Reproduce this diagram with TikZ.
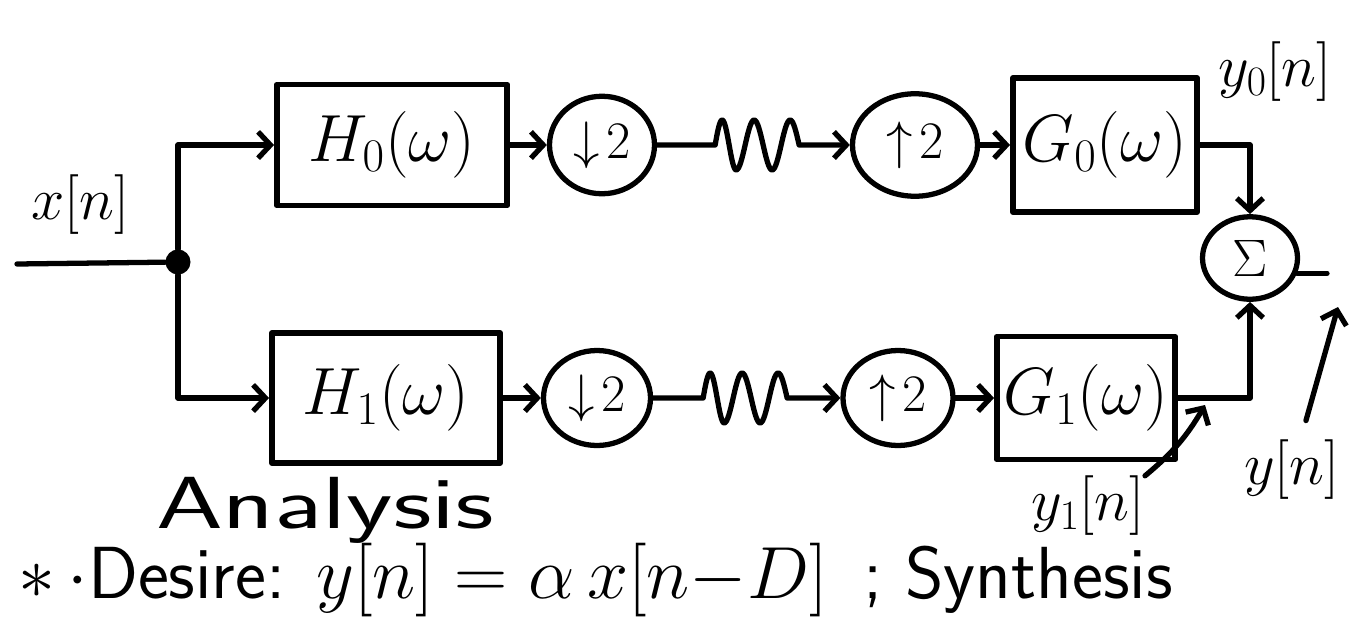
\RequirePackage{fix-cm}
\documentclass[tikz,border=0pt]{standalone}
\usepackage{amsmath}
\usepackage{amssymb}
\usepackage{tikz}
\usetikzlibrary{arrows.meta,shapes.geometric}

\begin{document}
\begin{tikzpicture}[
    x=0.2mm, y=-0.2mm, >={Straight Barb[length=7pt,width=15pt]}, line cap=round, line join=round,
    wire/.style  ={line width=3pt},
    filt/.style  ={draw, rectangle, line width=3.4pt, inner sep=0pt, font=\fontsize{38}{42}\selectfont},
    rate/.style  ={draw, ellipse, line width=3pt, inner sep=0pt, font=\fontsize{30}{34}\selectfont},
    lab/.style   ={inner sep=0pt, font=\fontsize{34}{38}\selectfont},
    note/.style  ={inner sep=0pt, font=\fontsize{42}{46}\selectfont\sffamily},
    wiggle/.style={insert path={sin ++(7,-25) cos ++(7,25) sin ++(7,25) cos ++(9,-25)
                                sin ++(9,-25) cos ++(9,25) sin ++(9,25) cos ++(9,-25)
                                sin ++(9,-25) cos ++(9,25)}}
]
\useasboundingbox (0,0) rectangle (1364,627);

% input and branch point
\coordinate (xin) at (17,264);
\node[circle, fill, inner sep=0pt, minimum size=0.5cm] (split) at (178,262) {};
\node[lab] (xlab) at (80,205) {$x[n]$};

% analysis bank
\node[filt, minimum width=4.6cm, minimum height=2.42cm] (H0) at (392,145) {$H_0(\omega)$};
\node[filt, minimum width=4.56cm, minimum height=2.6cm] (H1) at (386,398) {$H_1(\omega)$};
\node[rate, minimum width=2.1cm, minimum height=1.95cm] (d0) at (602,145) {$\downarrow\!2$};
\node[rate, minimum width=2.14cm, minimum height=1.9cm] (d1) at (597,398) {$\downarrow\!2$};

% synthesis bank
\node[rate, minimum width=2.5cm, minimum height=2.05cm] (u0) at (915,145) {$\uparrow\!2$};
\node[rate, minimum width=2.2cm, minimum height=1.9cm] (u1) at (898,398) {$\uparrow\!2$};
\node[filt, minimum width=3.68cm, minimum height=2.68cm] (G0) at (1105,145) {$G_0(\omega)$};
\node[filt, minimum width=3.56cm, minimum height=2.46cm] (G1) at (1086,398) {$G_1(\omega)$};
\node[rate, minimum width=1.9cm, minimum height=1.65cm] (sum) at (1250,258) {$\Sigma$};
\coordinate (yout) at (1327,0);

% signal labels
\node[lab] (y0lab) at (1275,72) {$y_0[n]$};
\node[lab] (y1lab) at (1088,506) {$y_1[n]$};
\node[lab] (ylab) at (1292,470) {$y[n]$};
\coordinate (y1tap) at (1205,405);
\coordinate (ytap) at (1338,307);

% wires
\draw[wire] (xin) -- (split);
\draw[wire,->] (split) |- (H0);
\draw[wire,->] (split) |- (H1);
\draw[wire,->] (H0) -- (d0);
\draw[wire,->] (H1) -- (d1);
\draw[wire,->] (d0.east) -- ++(58,0) [wiggle] -- (u0);
\draw[wire,->] (d1.east) -- ++(50,0) [wiggle] -- (u1);
\draw[wire,->] (u0) -- (G0);
\draw[wire,->] (u1) -- (G1);
\draw[wire,->] (G0) -| (sum);
\draw[wire,->] (G1) -| (sum);
\draw[wire] (sum.-18) -- (sum.-18 -| yout);
\draw[wire,->] (y1lab.north east) to[bend right=10] (y1tap);
\draw[wire,->, shorten <=0.4cm] (ylab) -- (ytap);

% notes
\node[note, anchor=base] (analysis) at (325,528) {\scalebox{1.45}[1]{Analysis}};
\node[note, anchor=base west] (desire) at (18,598)
  {$\ast\,\cdot$Desire: $y[n]=\alpha\,x[n{-}D]$ \,; Synthesis};
\end{tikzpicture}
\end{document}
